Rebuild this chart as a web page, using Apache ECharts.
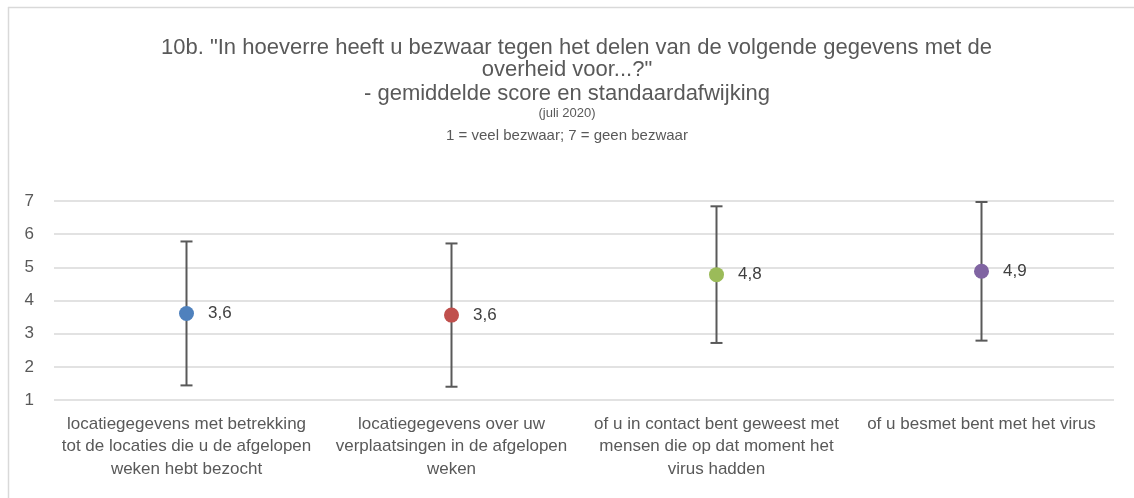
<!DOCTYPE html>
<html>
<head>
<meta charset="utf-8">
<script src="https://cdn.jsdelivr.net/npm/echarts@6/dist/echarts.min.js"></script>
<style>
  html, body { margin: 0; padding: 0; background: #fff; }
  #chart { width: 1134px; height: 498px; }
</style>
</head>
<body>
<div id="chart"></div>
<script>
var categories = [
  'locatiegegevens met betrekking\ntot de locaties die u de afgelopen\nweken hebt bezocht',
  'locatiegegevens over uw\nverplaatsingen in de afgelopen\nweken',
  'of u in contact bent geweest met\nmensen die op dat moment het\nvirus hadden',
  'of u besmet bent met het virus'
]
var means = [3.61, 3.56, 4.78, 4.88]
var stdevs = [2.17, 2.16, 2.06, 2.09]
var colors = ['#4f81bd', '#c0504d', '#9bbb59', '#8064a2']
var yTicks = [1, 2, 3, 4, 5, 6, 7]

var font = '"Liberation Sans Narrow", "Liberation Sans", Arial, sans-serif'
var textColor = '#595959'

var errData = means.map(function (m, i) {
  return [i, m - stdevs[i], m + stdevs[i]]
})

var chart = echarts.init(document.getElementById('chart'))
chart.setOption({
  animation: false,
  textStyle: { fontFamily: font },
  title: [
    { text: '10b. "In hoeverre heeft u bezwaar tegen het delen van de volgende gegevens met de', top: 37, left: 161 },
    { text: 'overheid voor...?"', top: 59 },
    { text: '- gemiddelde score en standaardafwijking', top: 83 },
    { text: '(juli 2020)', top: 107, fontSize: 13 },
    { text: '1 = veel bezwaar; 7 = geen bezwaar', top: 128, fontSize: 15 }
  ].map(function (t) {
    return {
      text: t.text,
      left: t.left || 'center',
      top: t.top,
      padding: 0,
      textStyle: {
        fontFamily: font,
        fontWeight: 'normal',
        fontSize: t.fontSize || 22,
        color: textColor
      }
    }
  }),
  graphic: [
    { type: 'line', shape: { x1: 8, y1: 7.5, x2: 1134, y2: 7.5 }, style: { stroke: '#d9d9d9', lineWidth: 1.5 } },
    { type: 'line', shape: { x1: 8.5, y1: 7, x2: 8.5, y2: 498 }, style: { stroke: '#d9d9d9', lineWidth: 1.5 } }
  ],
  grid: { left: 54, right: 20, top: 201, bottom: 98 },
  xAxis: {
    type: 'category',
    data: categories,
    axisLine: { show: false },
    axisTick: { show: false },
    axisLabel: {
      interval: 0,
      margin: 13,
      fontSize: 17,
      lineHeight: 22.5,
      color: textColor,
      fontFamily: font
    }
  },
  yAxis: {
    type: 'value',
    min: 1,
    max: 7,
    interval: 1,
    axisLine: { show: false },
    axisTick: { show: false },
    splitLine: { lineStyle: { color: '#d9d9d9', width: 1.5 } },
    axisLabel: {
      margin: 20,
      fontSize: 17,
      color: textColor,
      fontFamily: font,
      formatter: function (v) { return yTicks.indexOf(v) >= 0 ? String(v) : '' }
    }
  },
  series: [
    {
      type: 'custom',
      data: errData,
      z: 2,
      renderItem: function (params, api) {
        var x = api.value(0)
        var lo = api.coord([x, api.value(1)])
        var hi = api.coord([x, api.value(2)])
        var cap = 6
        var style = { stroke: '#595959', lineWidth: 2 }
        return {
          type: 'group',
          children: [
            { type: 'line', shape: { x1: lo[0], y1: lo[1], x2: hi[0], y2: hi[1] }, style: style },
            { type: 'line', shape: { x1: lo[0] - cap, y1: lo[1], x2: lo[0] + cap, y2: lo[1] }, style: style },
            { type: 'line', shape: { x1: hi[0] - cap, y1: hi[1], x2: hi[0] + cap, y2: hi[1] }, style: style }
          ]
        }
      }
    },
    {
      type: 'scatter',
      z: 3,
      symbolSize: 15,
      data: means.map(function (m, i) {
        return { value: m, itemStyle: { color: colors[i], opacity: 1 } }
      }),
      label: {
        show: true,
        position: 'right',
        distance: 14,
        fontSize: 17,
        color: '#404040',
        fontFamily: font,
        formatter: function (p) { return p.value.toFixed(1).replace('.', ',') }
      }
    }
  ]
})
</script>
</body>
</html>
